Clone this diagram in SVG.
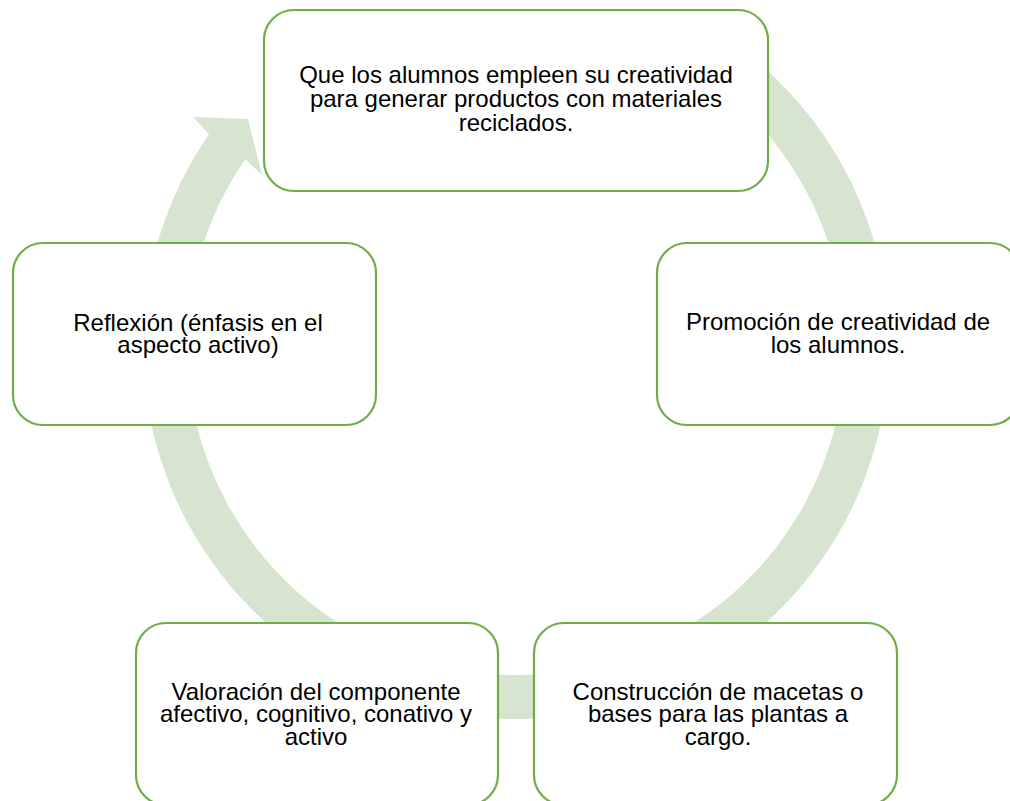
<svg xmlns="http://www.w3.org/2000/svg" width="1010" height="801" viewBox="0 0 1010 801">
  <style>
    .box { fill: #ffffff; stroke: #70ad47; stroke-width: 2.2; }
    .lbl { font-family: "Liberation Sans", Arial, sans-serif; font-size: 24px; fill: #000000; text-anchor: middle; }
    .ring { fill: #d6e4d0; stroke: none; }
  </style>
  <rect width="1010" height="801" fill="#ffffff"/>
  <g id="connectors">
    <path class="ring" d="M 702.5 23 A 373 373 0 1 1 209 134.2 L 193 117 L 248 119 L 262 175 L 245.2 159.2 A 329 329 0 1 0 680.5 61.1 Z"/>
  </g>
  <g id="node-top">
    <rect class="box" x="264" y="10" width="504" height="181" rx="30" ry="30"/>
    <text class="lbl" x="516" y="83"><tspan x="516" y="83">Que los alumnos empleen su creatividad</tspan><tspan x="516" y="107">para generar productos con materiales</tspan><tspan x="516" y="131">reciclados.</tspan></text>
  </g>
  <g id="node-right">
    <rect class="box" x="657" y="243" width="363" height="182" rx="30" ry="30"/>
    <text class="lbl" x="838" y="330"><tspan x="838" y="330">Promoción de creatividad de</tspan><tspan x="838" y="353">los alumnos.</tspan></text>
  </g>
  <g id="node-bottom-right">
    <rect class="box" x="534" y="623" width="363" height="182" rx="30" ry="30"/>
    <text class="lbl" x="718" y="700"><tspan x="718" y="700">Construcción de macetas o</tspan><tspan x="718" y="722">bases para las plantas a</tspan><tspan x="718" y="745">cargo.</tspan></text>
  </g>
  <g id="node-bottom-left">
    <rect class="box" x="136" y="623" width="362" height="182" rx="30" ry="30"/>
    <text class="lbl" x="316" y="700"><tspan x="316" y="700">Valoración del componente</tspan><tspan x="316" y="722">afectivo, cognitivo, conativo y</tspan><tspan x="316" y="745">activo</tspan></text>
  </g>
  <g id="node-left">
    <rect class="box" x="13" y="243" width="363" height="182" rx="30" ry="30"/>
    <text class="lbl" x="198" y="331"><tspan x="198" y="331">Reflexión (énfasis en el</tspan><tspan x="198" y="353">aspecto activo)</tspan></text>
  </g>
</svg>
